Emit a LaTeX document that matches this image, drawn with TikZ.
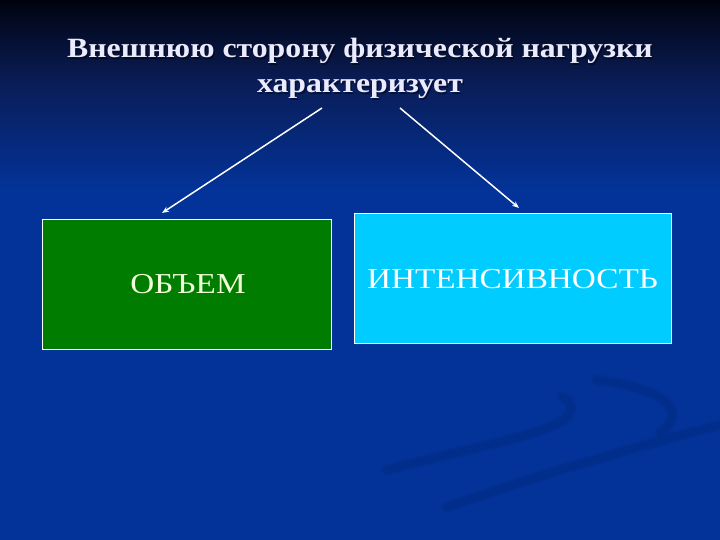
\documentclass[tikz,border=0pt]{standalone}
\usepackage{fontspec}
\setmainfont{Liberation Serif}
\usetikzlibrary{arrows.meta}
\definecolor{bgtop}{HTML}{00030F}
\definecolor{bgmid}{HTML}{0A1C55}
\definecolor{bgblue}{HTML}{033399}
\definecolor{swoosh}{HTML}{022A80}
\definecolor{boxgreen}{HTML}{007C00}
\definecolor{boxcyan}{HTML}{00CCFF}
\definecolor{paleyellow}{HTML}{F0FFD8}
\tikzset{
  titletext/.style={text=white!92!blue, font=\bfseries\fontsize{28}{34}\selectfont, inner sep=0pt, anchor=base, xscale=1.14},
  boxstyle/.style={draw=white, line width=1pt, inner sep=0pt},
  boxtext/.style={inner sep=0pt, font=\fontsize{29}{34}\selectfont, xscale=1.15},
  link/.style={draw=white, line width=1.5pt, -{Stealth[length=7pt,width=5.5pt]}},
}
\begin{document}
\begin{tikzpicture}[x=1bp,y=-1bp]
\useasboundingbox (0,0) rectangle (720,540);
% background
\fill[bgblue] (0,0) rectangle (720,540);
\shade[top color=bgtop, bottom color=bgmid] (0,0) rectangle (720,80);
\shade[top color=bgmid, bottom color=bgblue] (0,79.5) rectangle (720,190);
% swooshes
\begin{scope}[line cap=round, draw=swoosh, opacity=0.3]
\foreach \w in {11pt,7pt}{
\draw[line width=\w] (387,470) .. controls (470,448) and (545,435) .. (566,418) .. controls (575,408) and (570,400) .. (562,397);
\draw[line width=\w] (447,507) .. controls (530,478) and (640,445) .. (720,425);
\draw[line width=\w] (597,380) .. controls (640,385) and (672,398) .. (672,414) .. controls (672,424) and (665,430) .. (660,432);
}
\end{scope}
% title
\node[titletext, text=black, opacity=0.45] at (361.5,59.5) {Внешнюю сторону физической нагрузки};
\node[titletext, text=black, opacity=0.45] at (361.5,94.5) {характеризует};
\node[titletext] (t1) at (360,58) {Внешнюю сторону физической нагрузки};
\node[titletext] (t2) at (360,93) {характеризует};
% boxes
\node[boxstyle, fill=boxgreen, minimum width=289bp, minimum height=130bp] (vol) at (186.5,284) {};
\node[boxtext, text=paleyellow] (voltext) at (188,284) {ОБЪЕМ};
\node[boxstyle, fill=boxcyan, minimum width=317bp, minimum height=130bp] (int) at (512.5,278) {};
\node[boxtext, text=white] (inttext) at (512.5,279) {ИНТЕНСИВНОСТЬ};
% arrows
\coordinate (s1) at (322,108);
\coordinate (s2) at (400,108);
\coordinate (e1) at (162,213);
\coordinate (e2) at (519,208);
\draw[link] (s1) -- (e1);
\draw[link] (s2) -- (e2);
\end{tikzpicture}
\end{document}
